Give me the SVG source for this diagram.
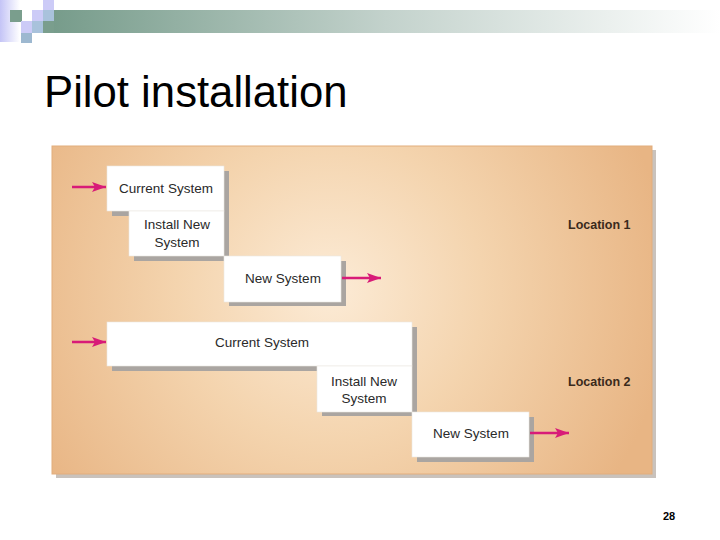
<svg xmlns="http://www.w3.org/2000/svg" width="720" height="540" viewBox="0 0 720 540">
<defs>
<linearGradient id="bar" x1="0" y1="0" x2="1" y2="0">
<stop offset="0" stop-color="#779c8b"/>
<stop offset="0.5" stop-color="#c3d2cc"/>
<stop offset="1" stop-color="#ffffff"/>
</linearGradient>
<linearGradient id="lav" x1="0" y1="0" x2="1" y2="0">
<stop offset="0" stop-color="#c4c4f6"/>
<stop offset="1" stop-color="#ffffff"/>
</linearGradient>
<radialGradient id="panel" cx="330" cy="290" r="340" gradientUnits="userSpaceOnUse">
<stop offset="0" stop-color="#fcebd6"/>
<stop offset="0.45" stop-color="#f4d4ae"/>
<stop offset="1" stop-color="#e8b584"/>
</radialGradient>
<marker id="ah" viewBox="0 0 14 10" refX="14" refY="5" markerWidth="14" markerHeight="10" markerUnits="userSpaceOnUse" orient="auto">
<path d="M0,0 L14,5 L0,10 L3,5 Z" fill="#d81b78"/>
</marker>
</defs>
<style>
.box{fill:#ffffff;stroke:#ece6e0;stroke-width:0.6}
.sh{fill:#aaa5a1}
.t{font-family:"Liberation Sans",Arial,sans-serif;font-size:13.5px;fill:#2a2a2a;text-anchor:middle}
.loc{font-family:"Liberation Sans",Arial,sans-serif;font-size:12.5px;font-weight:bold;fill:#3a2a1c}
.arr{stroke:#d81b78;stroke-width:2.5;fill:none;marker-end:url(#ah)}
</style>
<rect x="0" y="0" width="720" height="540" fill="#ffffff"/>
<g id="header">
<rect x="0" y="0" width="20" height="42" fill="url(#lav)"/>
<rect x="54" y="10" width="666" height="23" fill="url(#bar)"/>
<rect x="43" y="21" width="11" height="12" fill="#7a9e8d"/>
<rect x="10" y="10" width="12" height="12" fill="#7a9e8d"/>
<rect x="43" y="0" width="11" height="10" fill="#cccbf7"/>
<rect x="32" y="10" width="11" height="11" fill="#cccbf7"/>
<rect x="43" y="10" width="11" height="11" fill="#a9c2dc"/>
<rect x="21" y="21" width="11" height="12" fill="#cccbf7"/>
<rect x="32" y="21" width="11" height="12" fill="#a9c2dc"/>
<rect x="21" y="33" width="11" height="10" fill="#9db8d0"/>
</g>
<text x="44" y="107" font-family="'Liberation Sans',Arial,sans-serif" font-size="43.7" fill="#000000">Pilot installation</text>
<g id="panel-bg">
<rect x="56" y="150" width="600" height="328" fill="#c9c2bc"/>
<rect x="52" y="146" width="600" height="328" fill="url(#panel)" stroke="#e2ad7c" stroke-width="1"/>
</g>
<g id="loc1-current">
<rect class="sh" x="112" y="171" width="117" height="45"/>
<rect class="box" x="107" y="166" width="117" height="45"/>
<text class="t" x="166" y="193">Current System</text>
</g>
<g id="loc1-install">
<rect class="sh" x="134" y="216" width="95" height="45"/>
<rect class="box" x="129" y="211" width="95" height="45"/>
<text class="t" x="177" y="229">Install New</text>
<text class="t" x="177" y="247">System</text>
</g>
<g id="loc1-new">
<rect class="sh" x="229" y="261" width="117" height="45"/>
<rect class="box" x="224" y="256" width="117" height="46"/>
<text class="t" x="283" y="283">New System</text>
</g>
<g id="loc2-current">
<rect class="sh" x="112" y="327" width="305" height="44"/>
<rect class="box" x="107" y="322" width="305" height="44"/>
<text class="t" x="262" y="347">Current System</text>
</g>
<g id="loc2-install">
<rect class="sh" x="322" y="371" width="95" height="45"/>
<rect class="box" x="317" y="366" width="95" height="46"/>
<text class="t" x="364" y="386">Install New</text>
<text class="t" x="364" y="403">System</text>
</g>
<g id="loc2-new">
<rect class="sh" x="417" y="417" width="117" height="45"/>
<rect class="box" x="412" y="412" width="117" height="45"/>
<text class="t" x="471" y="438">New System</text>
</g>
<g id="labels">
<text class="loc" x="568" y="229">Location 1</text>
<text class="loc" x="568" y="386">Location 2</text>
</g>
<g id="connectors">
<line class="arr" x1="72" y1="187" x2="106" y2="187"/>
<line class="arr" x1="342" y1="278" x2="381" y2="278"/>
<line class="arr" x1="72" y1="342" x2="106" y2="342"/>
<line class="arr" x1="530" y1="433" x2="569" y2="433"/>
</g>
<text x="669" y="520" font-family="'Liberation Sans',Arial,sans-serif" font-size="11" font-weight="bold" fill="#000000" text-anchor="middle">28</text>
</svg>
